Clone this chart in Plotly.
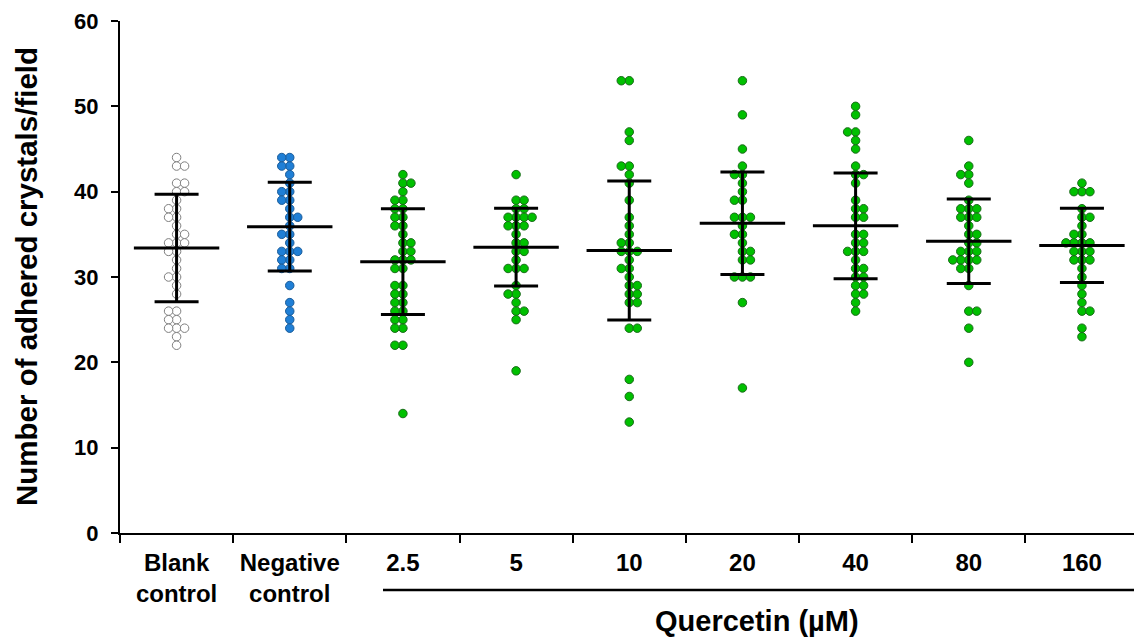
import plotly.graph_objects as go

# ---------------- data ----------------
categories = ["Blank<br>control", "Negative<br>control", "2.5", "5", "10", "20", "40", "80", "160"]

blank = [44, 43, 43, 41, 41, 40, 40, 39, 38, 38, 37, 37, 36, 35, 35, 34, 34, 34, 33, 33,
         32, 31, 30, 30, 29, 28, 26, 26, 25, 25, 24, 24, 24, 23, 22]
negative = [44, 44, 43, 43, 42, 41, 40, 40, 39, 39, 38, 37, 37, 36, 35, 35, 34, 33, 33, 33,
            32, 32, 31, 31, 29, 27, 26, 25, 24]
q2_5 = [42, 41, 41, 40, 39, 39, 38, 38, 37, 37, 36, 36, 35, 34, 34, 33, 33, 32, 32, 32,
        31, 31, 29, 29, 28, 28, 27, 27, 26, 26, 25, 25, 24, 24, 22, 22, 14]
q5 = [42, 39, 39, 38, 38, 37, 37, 37, 37, 36, 36, 36, 35, 34, 34, 33, 33, 32, 31, 31,
      31, 29, 28, 28, 27, 26, 26, 25, 19]
q10 = [53, 53, 47, 46, 43, 43, 42, 41, 39, 37, 36, 35, 34, 34, 33, 33, 33, 32, 31, 31,
       30, 29, 29, 28, 28, 27, 27, 24, 24, 18, 16, 13]
q20 = [53, 49, 45, 43, 42, 42, 41, 40, 39, 39, 37, 37, 37, 36, 35, 35, 34, 33, 33, 32,
       32, 30, 30, 30, 27, 17]
q40 = [50, 49, 47, 47, 46, 45, 43, 42, 42, 41, 39, 38, 38, 37, 37, 35, 35, 34, 34, 33,
       33, 33, 32, 31, 31, 30, 30, 29, 29, 28, 28, 27, 26]
q80 = [46, 43, 42, 42, 41, 39, 38, 38, 38, 37, 37, 37, 36, 35, 35, 34, 34, 33, 33, 33,
       32, 32, 32, 32, 31, 31, 29, 26, 26, 24, 20]
q160 = [41, 40, 40, 40, 38, 37, 37, 36, 35, 35, 34, 34, 34, 34, 33, 33, 33, 32, 32, 32,
        31, 30, 29, 28, 27, 26, 26, 24, 23]

groups = [blank, negative, q2_5, q5, q10, q20, q40, q80, q160]

means = [33.4, 35.9, 31.8, 33.5, 33.1, 36.3, 36.0, 34.2, 33.7]
sds = [6.3, 5.2, 6.2, 4.55, 8.15, 6.0, 6.2, 4.95, 4.35]

y_ticks = [0, 10, 20, 30, 40, 50, 60]

# ---------------- layout geometry ----------------
W, H = 1134, 640
ML, MR, MT, MB = 120, 0, 21, 107
XR = [-0.5, 8.46]
YR = [0, 60]
PW = W - ML - MR
PH = H - MT - MB
px_x = PW / (XR[1] - XR[0])
px_y = PH / (YR[1] - YR[0])


def swarm(values, dmin=8.0, step=0.5):
    """simple beeswarm: horizontal offsets (data units) so markers do not overlap"""
    order = sorted(range(len(values)), key=lambda i: -values[i])
    placed = []
    offs = [0.0] * len(values)
    for n, i in enumerate(order):
        yp = values[i] * px_y
        chosen = None
        k = 0
        while chosen is None:
            cands = [0.0] if k == 0 else ([k * step, -k * step] if n % 2 == 0 else [-k * step, k * step])
            for s in cands:
                if all((s - a) ** 2 + (yp - b) ** 2 >= dmin ** 2 for a, b in placed):
                    chosen = s
                    break
            k += 1
        placed.append((chosen, yp))
        offs[i] = chosen / px_x
    return offs


styles = [
    dict(color="white", line=dict(color="#7f7f7f", width=1)),
    dict(color="#1f7fd6", line=dict(color="#1b5c99", width=1)),
] + [dict(color="#00c000", line=dict(color="#1a6b1a", width=1))] * 7

fig = go.Figure()

for gi, vals in enumerate(groups):
    offs = swarm(vals)
    fig.add_trace(go.Scatter(
        x=[gi + o for o in offs], y=vals, mode="markers",
        marker=dict(size=8.5, **styles[gi]),
        showlegend=False, hoverinfo="y"))

# mean +/- SD
fig.add_trace(go.Scatter(
    x=list(range(len(categories))), y=means, mode="markers",
    marker=dict(symbol="line-ew", size=61, line=dict(color="black", width=3)),
    error_y=dict(type="data", array=sds, visible=True, color="black", thickness=3, width=22),
    showlegend=False, hoverinfo="y"))

FONT = "Arial, Liberation Sans, sans-serif"


def py(pix):
    """pixel row (from top of figure) -> paper y"""
    return ((H - MB) - pix) / PH


def px(pix):
    """pixel column -> paper x"""
    return (pix - ML) / PW


fig.update_layout(
    width=W, height=H,
    margin=dict(l=ML, r=MR, t=MT, b=MB, pad=0, autoexpand=False),
    paper_bgcolor="white", plot_bgcolor="white",
    font=dict(family=FONT, color="black"),
    xaxis=dict(
        range=XR, tickmode="array", tickvals=list(range(len(categories))), ticktext=categories,
        ticks="", showline=True, linewidth=2, linecolor="black", showgrid=False, zeroline=False,
        ticklabelstandoff=7, automargin=False,
        tickfont=dict(family=FONT, size=24, color="black", weight="bold"),
        minor=dict(tickmode="array", tickvals=[i - 0.5 for i in range(len(categories))],
                   ticks="outside", ticklen=8, tickwidth=2, tickcolor="black", showgrid=False),
    ),
    yaxis=dict(
        range=YR, tickmode="array", tickvals=y_ticks, ticks="outside", ticklen=7, tickwidth=2,
        tickcolor="black", showline=True, linewidth=2, linecolor="black", showgrid=False,
        zeroline=False, ticklabelstandoff=8, automargin=False,
        tickfont=dict(family=FONT, size=22, color="black", weight="bold"),
    ),
    shapes=[dict(type="line", xref="paper", yref="paper",
                 x0=px(383), x1=1, y0=py(590), y1=py(590),
                 line=dict(color="black", width=2.5))],
    annotations=[
        dict(text="Quercetin (µM)", xref="paper", yref="paper",
             x=px(757), y=py(621), xanchor="center", yanchor="middle", showarrow=False,
             font=dict(family=FONT, size=29, color="black", weight="bold")),
        dict(text="Number of adhered crystals/field", xref="paper", yref="paper",
             x=px(26), y=py(277), xanchor="center", yanchor="middle", textangle=-90,
             showarrow=False,
             font=dict(family=FONT, size=29.5, color="black", weight="bold")),
    ],
)

fig.write_html("out.html", config={"displayModeBar": False},
               post_script="document.body.style.margin='0';document.body.style.overflow='hidden';")
